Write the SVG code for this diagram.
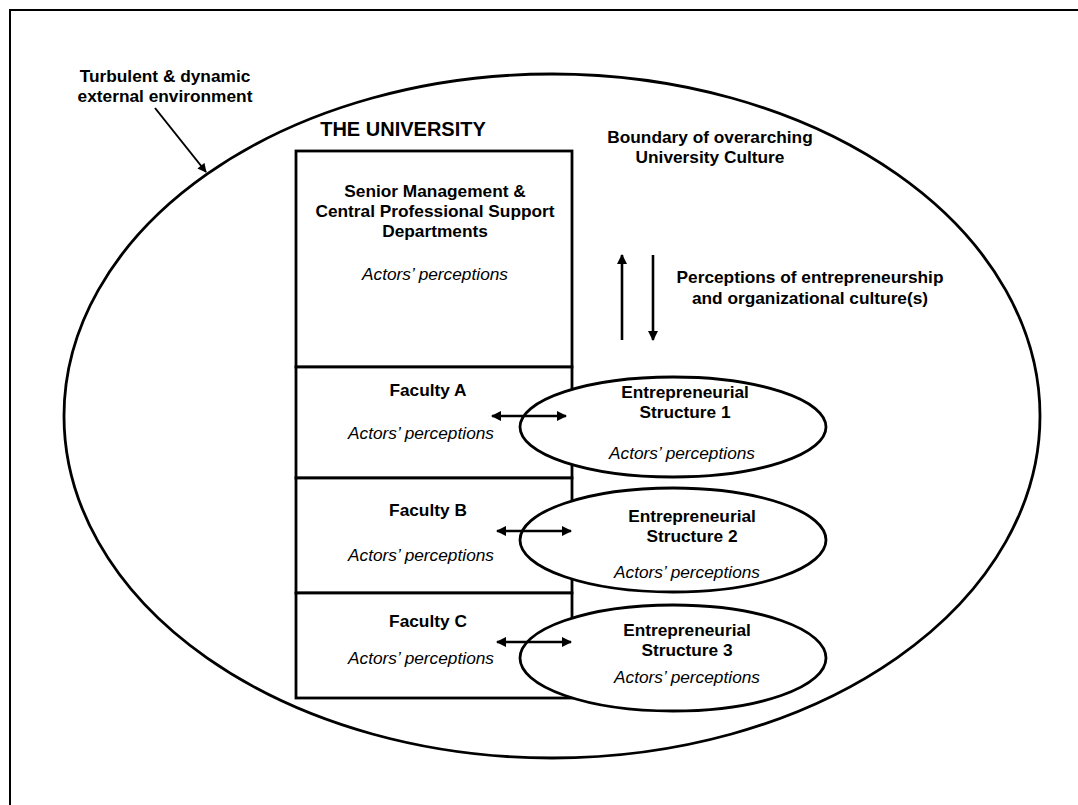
<svg xmlns="http://www.w3.org/2000/svg" width="1078" height="805" viewBox="0 0 1078 805">
  <style>
    .b { font-family: "Liberation Sans", Arial, sans-serif; font-weight: bold; font-size: 17.3px; fill: #000; text-anchor: middle; }
    .i { font-family: "Liberation Sans", Arial, sans-serif; font-style: italic; font-size: 17.3px; fill: #000; text-anchor: middle; }
    .shape { fill: #fff; stroke: #000; stroke-width: 2.8; }
    .line { stroke: #000; stroke-width: 2.6; fill: none; }
  </style>
  <defs>
    <marker id="head" viewBox="0 0 10 10" refX="9" refY="5" markerWidth="4" markerHeight="4" orient="auto-start-reverse" markerUnits="strokeWidth">
      <path d="M0,0 L10,5 L0,10 z" fill="#000"/>
    </marker>
    <marker id="head-thin" viewBox="0 0 10 10" refX="9" refY="5" markerWidth="5" markerHeight="4.5" orient="auto" markerUnits="strokeWidth">
      <path d="M0,0 L10,5 L0,10 z" fill="#000"/>
    </marker>
  </defs>

  <rect width="1078" height="805" fill="#fff"/>

  <!-- outer frame: environment -->
  <g id="environment">
    <rect x="10" y="10" width="1090" height="820" fill="none" stroke="#000" stroke-width="2"/>
    <text class="b" x="165" y="82">Turbulent &amp; dynamic</text>
    <text class="b" x="165" y="102">external environment</text>
  </g>

  <!-- university culture boundary -->
  <g id="university">
    <ellipse class="shape" cx="552" cy="416" rx="488" ry="342"/>
    <text class="b" x="403" y="136" style="font-size:20px">THE UNIVERSITY</text>
    <text class="b" x="710" y="143">Boundary of overarching</text>
    <text class="b" x="710" y="163">University Culture</text>
  </g>

  <!-- central management block -->
  <g id="senior-management">
    <rect class="shape" x="296" y="151" width="276" height="216"/>
    <text class="b" x="435" y="197">Senior Management &amp;</text>
    <text class="b" x="435" y="217">Central Professional Support</text>
    <text class="b" x="435" y="237">Departments</text>
    <text class="i" x="435" y="280">Actors’ perceptions</text>
  </g>

  <g id="faculty-a">
    <rect class="shape" x="296" y="367" width="276" height="111"/>
    <text class="b" x="428" y="396">Faculty A</text>
    <text class="i" x="421" y="439">Actors’ perceptions</text>
  </g>

  <g id="faculty-b">
    <rect class="shape" x="296" y="478" width="276" height="115"/>
    <text class="b" x="428" y="516">Faculty B</text>
    <text class="i" x="421" y="561">Actors’ perceptions</text>
  </g>

  <g id="faculty-c">
    <rect class="shape" x="296" y="593" width="276" height="105"/>
    <text class="b" x="428" y="627">Faculty C</text>
    <text class="i" x="421" y="664">Actors’ perceptions</text>
  </g>

  <g id="structure-1">
    <ellipse class="shape" cx="673" cy="427" rx="153" ry="50"/>
    <text class="b" x="685" y="397.5">Entrepreneurial</text>
    <text class="b" x="685" y="418">Structure 1</text>
    <text class="i" x="682" y="459">Actors’ perceptions</text>
  </g>

  <g id="structure-2">
    <ellipse class="shape" cx="673" cy="540" rx="153" ry="52"/>
    <text class="b" x="692" y="522">Entrepreneurial</text>
    <text class="b" x="692" y="542">Structure 2</text>
    <text class="i" x="687" y="578">Actors’ perceptions</text>
  </g>

  <g id="structure-3">
    <ellipse class="shape" cx="673" cy="658" rx="153" ry="53"/>
    <text class="b" x="687" y="636">Entrepreneurial</text>
    <text class="b" x="687" y="656">Structure 3</text>
    <text class="i" x="687" y="683">Actors’ perceptions</text>
  </g>

  <g id="perceptions-label">
    <text class="b" x="810" y="283">Perceptions of entrepreneurship</text>
    <text class="b" x="810" y="304">and organizational culture(s)</text>
  </g>

  <!-- connectors -->
  <g id="connectors">
    <line x1="155" y1="108" x2="206" y2="172" stroke="#000" stroke-width="2" marker-end="url(#head-thin)"/>
    <line class="line" x1="622" y1="340" x2="622" y2="255" marker-end="url(#head)"/>
    <line class="line" x1="653" y1="255" x2="653" y2="340" marker-end="url(#head)"/>
    <line class="line" x1="492" y1="416" x2="566" y2="416" marker-start="url(#head)" marker-end="url(#head)"/>
    <line class="line" x1="497" y1="531" x2="571" y2="531" marker-start="url(#head)" marker-end="url(#head)"/>
    <line class="line" x1="497" y1="642" x2="571" y2="642" marker-start="url(#head)" marker-end="url(#head)"/>
  </g>
</svg>
